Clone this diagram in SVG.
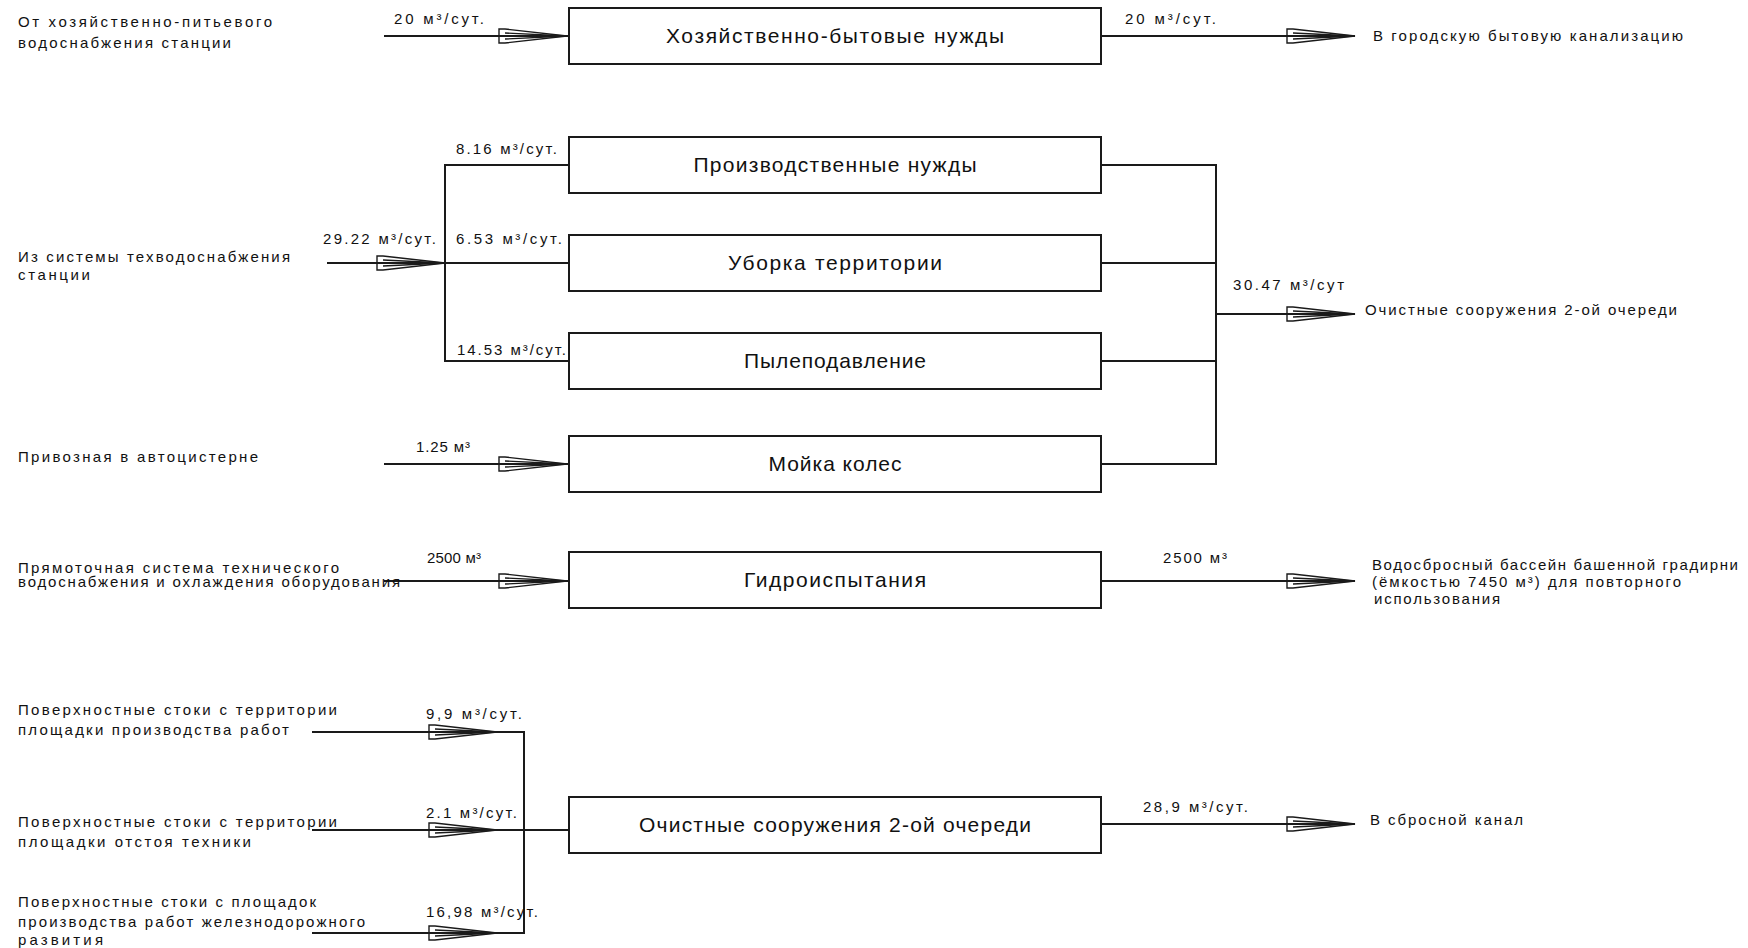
<svg xmlns="http://www.w3.org/2000/svg" xmlns:xlink="http://www.w3.org/1999/xlink" width="1748" height="948" viewBox="0 0 1748 948">
<style>
  .bg{fill:#fff}
  .box{fill:#fff;stroke:#1a1a1a;stroke-width:2}
  .ln{fill:none;stroke:#1a1a1a;stroke-width:2}
  .ah{fill:none;stroke:#1a1a1a;stroke-width:1.4;stroke-linejoin:miter}
  .t{font-family:"Liberation Sans",Arial,sans-serif;font-size:15px;fill:#111}
  .bt{font-family:"Liberation Sans",Arial,sans-serif;font-size:21px;fill:#111;text-anchor:middle}
</style>
<defs>
  <g id="arr">
    <path class="ah" d="M-68,-7 L-62,-7 L0,0 L-62,7 L-68,7 Z"/>
    <path class="ah" d="M-62,-3 L0,0 L-62,3"/>
  </g>
</defs>
<rect class="bg" x="0" y="0" width="1748" height="948"/>

<g id="connectors">
  <line class="ln" x1="384" y1="36" x2="569" y2="36"/>
  <use xlink:href="#arr" href="#arr" transform="translate(567,36)"/>
  <line class="ln" x1="1101" y1="36" x2="1355" y2="36"/>
  <use xlink:href="#arr" href="#arr" transform="translate(1355,36)"/>
  <line class="ln" x1="327" y1="263" x2="445" y2="263"/>
  <use xlink:href="#arr" href="#arr" transform="translate(445,263)"/>
  <polyline class="ln" points="569,165 445,165 445,361 569,361"/>
  <line class="ln" x1="445" y1="263" x2="569" y2="263"/>
  <polyline class="ln" points="1101,165 1216,165 1216,464 1101,464"/>
  <line class="ln" x1="1101" y1="263" x2="1216" y2="263"/>
  <line class="ln" x1="1101" y1="361" x2="1216" y2="361"/>
  <line class="ln" x1="1216" y1="314" x2="1355" y2="314"/>
  <use xlink:href="#arr" href="#arr" transform="translate(1355,314)"/>
  <line class="ln" x1="384" y1="464" x2="569" y2="464"/>
  <use xlink:href="#arr" href="#arr" transform="translate(567,464)"/>
  <line class="ln" x1="384" y1="581" x2="569" y2="581"/>
  <use xlink:href="#arr" href="#arr" transform="translate(567,581)"/>
  <line class="ln" x1="1101" y1="581" x2="1355" y2="581"/>
  <use xlink:href="#arr" href="#arr" transform="translate(1355,581)"/>
  <polyline class="ln" points="312,732 524,732 524,933 312,933"/>
  <line class="ln" x1="312" y1="830" x2="569" y2="830"/>
  <use xlink:href="#arr" href="#arr" transform="translate(497,732)"/>
  <use xlink:href="#arr" href="#arr" transform="translate(497,830)"/>
  <use xlink:href="#arr" href="#arr" transform="translate(497,933)"/>
  <line class="ln" x1="1101" y1="824" x2="1355" y2="824"/>
  <use xlink:href="#arr" href="#arr" transform="translate(1355,824)"/>
</g>

<g id="labels">
  <text class="t" x="394" y="24" textLength="90" lengthAdjust="spacing">20 м³/сут.</text>
  <text class="t" x="1125" y="24" textLength="91" lengthAdjust="spacing">20 м³/сут.</text>
  <text class="t" x="323" y="244" textLength="113" lengthAdjust="spacing">29.22 м³/сут.</text>
  <text class="t" x="456" y="154" textLength="101" lengthAdjust="spacing">8.16 м³/сут.</text>
  <text class="t" x="456" y="244" textLength="106" lengthAdjust="spacing">6.53 м³/сут.</text>
  <text class="t" x="457" y="355" textLength="109" lengthAdjust="spacing">14.53 м³/сут.</text>
  <text class="t" x="1233" y="290" textLength="111" lengthAdjust="spacing">30.47 м³/сут</text>
  <text class="t" x="416" y="452" textLength="54" lengthAdjust="spacing">1.25 м³</text>
  <text class="t" x="427" y="563" textLength="54" lengthAdjust="spacing">2500 м³</text>
  <text class="t" x="1163" y="563" textLength="64" lengthAdjust="spacing">2500 м³</text>
  <text class="t" x="426" y="719" textLength="96" lengthAdjust="spacing">9,9 м³/сут.</text>
  <text class="t" x="426" y="818" textLength="91" lengthAdjust="spacing">2.1 м³/сут.</text>
  <text class="t" x="426" y="917" textLength="112" lengthAdjust="spacing">16,98 м³/сут.</text>
  <text class="t" x="1143" y="812" textLength="105" lengthAdjust="spacing">28,9 м³/сут.</text>
</g>

<g id="src-household">
  <text class="t" x="18" y="27" textLength="254" lengthAdjust="spacing">От хозяйственно-питьевого</text>
  <text class="t" x="18" y="48" textLength="213" lengthAdjust="spacing">водоснабжения станции</text>
</g>
<g id="node-household">
  <rect class="box" x="569" y="8" width="532" height="56"/>
  <text class="bt" x="835" y="43" textLength="338" lengthAdjust="spacing">Хозяйственно-бытовые нужды</text>
</g>
<g id="dst-sewer">
  <text class="t" x="1373" y="41" textLength="310" lengthAdjust="spacing">В городскую бытовую канализацию</text>
</g>

<g id="src-tech">
  <text class="t" x="18" y="262" textLength="272" lengthAdjust="spacing">Из системы техводоснабжения</text>
  <text class="t" x="18" y="280" textLength="72" lengthAdjust="spacing">станции</text>
</g>
<g id="node-production">
  <rect class="box" x="569" y="137" width="532" height="56"/>
  <text class="bt" x="835" y="172" textLength="283" lengthAdjust="spacing">Производственные нужды</text>
</g>
<g id="node-cleaning">
  <rect class="box" x="569" y="235" width="532" height="56"/>
  <text class="bt" x="835" y="270" textLength="214" lengthAdjust="spacing">Уборка территории</text>
</g>
<g id="node-dust">
  <rect class="box" x="569" y="333" width="532" height="56"/>
  <text class="bt" x="835" y="368" textLength="182" lengthAdjust="spacing">Пылеподавление</text>
</g>
<g id="src-truck">
  <text class="t" x="18" y="462" textLength="240" lengthAdjust="spacing">Привозная в автоцистерне</text>
</g>
<g id="node-wheels">
  <rect class="box" x="569" y="436" width="532" height="56"/>
  <text class="bt" x="835" y="471" textLength="133" lengthAdjust="spacing">Мойка колес</text>
</g>
<g id="dst-treatment">
  <text class="t" x="1365" y="315" textLength="312" lengthAdjust="spacing">Очистные сооружения 2-ой очереди</text>
</g>

<g id="src-direct">
  <text class="t" x="18" y="573" textLength="321" lengthAdjust="spacing">Прямоточная система технического</text>
  <text class="t" x="18" y="587" textLength="382" lengthAdjust="spacing">водоснабжения и охлаждения оборудования</text>
</g>
<g id="node-hydro">
  <rect class="box" x="569" y="552" width="532" height="56"/>
  <text class="bt" x="835" y="587" textLength="182" lengthAdjust="spacing">Гидроиспытания</text>
</g>
<g id="dst-basin">
  <text class="t" x="1372" y="570" textLength="366" lengthAdjust="spacing">Водосбросный бассейн башенной градирни</text>
  <text class="t" x="1372" y="587" textLength="309" lengthAdjust="spacing">(ёмкостью 7450 м³) для повторного</text>
  <text class="t" x="1374" y="604" textLength="126" lengthAdjust="spacing">использования</text>
</g>

<g id="src-surface1">
  <text class="t" x="18" y="715" textLength="319" lengthAdjust="spacing">Поверхностные стоки с территории</text>
  <text class="t" x="18" y="735" textLength="271" lengthAdjust="spacing">площадки производства работ</text>
</g>
<g id="src-surface2">
  <text class="t" x="18" y="827" textLength="319" lengthAdjust="spacing">Поверхностные стоки с территории</text>
  <text class="t" x="18" y="847" textLength="233" lengthAdjust="spacing">площадки отстоя техники</text>
</g>
<g id="src-surface3">
  <text class="t" x="18" y="907" textLength="298" lengthAdjust="spacing">Поверхностные стоки с площадок</text>
  <text class="t" x="18" y="927" textLength="347" lengthAdjust="spacing">производства работ железнодорожного</text>
  <text class="t" x="18" y="945" textLength="85" lengthAdjust="spacing">развития</text>
</g>
<g id="node-treatment">
  <rect class="box" x="569" y="797" width="532" height="56"/>
  <text class="bt" x="835" y="832" textLength="392" lengthAdjust="spacing">Очистные сооружения 2-ой очереди</text>
</g>
<g id="dst-channel">
  <text class="t" x="1370" y="825" textLength="153" lengthAdjust="spacing">В сбросной канал</text>
</g>
</svg>
